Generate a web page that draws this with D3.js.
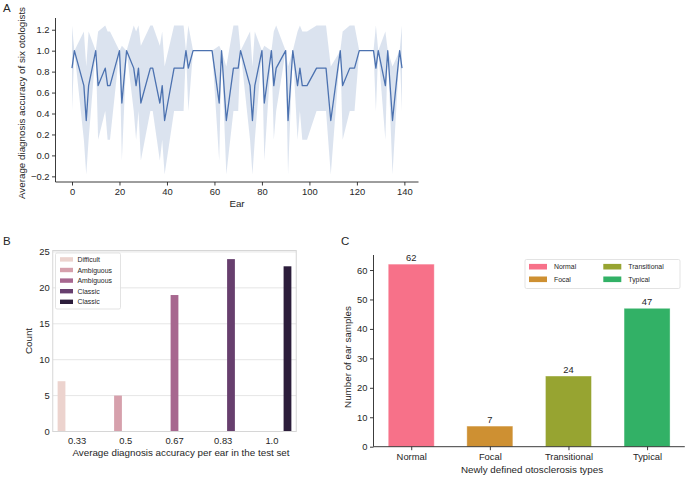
<!DOCTYPE html>
<html>
<head>
<meta charset="utf-8">
<script src="https://cdn.jsdelivr.net/npm/d3@7"></script>
<style>
body { margin: 0; background: #fff; }
svg { font-family: "Liberation Sans", Arial, sans-serif; }
</style>
</head>
<body>
<svg id="fig" width="688" height="477"></svg>
<script>
// panel A: test ears (original index) and how many of the six otologists were right
var ears = [0,1,5,6,7,10,11,14,15,16,20,21,23,26,27,28,29,33,34,37,38,39,43,44,45,46,47,48,49,
	51,53,55,57,59,62,63,65,68,69,70,71,75,76,77,80,81,84,85,86,90,91,93,95,96,97,98,99,
	103,105,107,109,113,114,117,119,121,124,127,128,129,132,133,135,138,139];
var correct = [5,6,4,2,4,6,4,5,4,4,6,3,6,5,4,5,3,5,5,3,4,2,5,5,5,5,5,6,5,
	6,6,6,6,6,3,6,2,5,5,5,6,4,2,4,6,3,6,4,5,6,2,6,4,5,4,4,4,
	5,5,5,2,6,4,5,5,6,6,6,5,6,4,6,2,6,5];
var nDoctors = 6;
var earTicks = [0,20,40,60,80,100,120,140];
var accTicks = [-0.2,0,0.2,0.4,0.6,0.8,1.0,1.2];

// panel B
var accLevels = ["0.33","0.5","0.67","0.83","1.0"];
var accCounts = [7,5,19,24,23];
var accGroups = ["Difficult","Ambiguous","Ambiguous","Classic","Classic"];
var accColors = ["#ecd3ce","#d6a0ac","#a7678f","#673f6e","#2c1d3b"];
var countTicks = [0,5,10,15,20,25];

// panel C
var types = ["Normal","Focal","Transitional","Typical"];
var typeCounts = [62,7,24,47];
var typeColors = ["#f77189","#ce9032","#97a431","#32b166"];
var sampleTicks = [0,10,20,30,40,50,60];

var ink = "#262626";
var tickFs = 9.4, labFs = 9.8, legFs = 6.9;
var svg = d3.select("#fig");

function label(x, y, txt, size, anchor, rot) {
	var t = svg.append("text")
		.attr("x", x).attr("y", y)
		.attr("font-size", size)
		.attr("fill", ink)
		.attr("text-anchor", anchor || "middle")
		.text(txt);
	if (rot) t.attr("transform", "rotate(" + rot + " " + x + " " + y + ")");
	return t;
}

function styleAxis(g) {
	g.selectAll(".domain").remove();
	g.selectAll(".tick line").attr("stroke", ink).attr("stroke-width", 0.9);
	g.selectAll(".tick text").attr("fill", ink).attr("font-size", tickFs)
		.attr("font-family", "Liberation Sans, Arial, sans-serif");
}

// ---------- A ----------
var pts = ears.map(function (e, i) {
	var c = correct[i];
	var m = c / nDoctors;
	var sd = Math.sqrt(c * (nDoctors - c) / (nDoctors * (nDoctors - 1)));
	return {x: e, m: m, lo: m - sd, hi: m + sd};
});
var xA = d3.scaleLinear().domain([-6.95, 145.95]).range([55.5, 418.5]);
var yA = d3.scaleLinear().domain([-0.254, 1.312]).range([182, 18]);

svg.append("path")
	.datum(pts)
	.attr("fill", "#4c72b0")
	.attr("fill-opacity", 0.2)
	.attr("d", d3.area()
		.x(function (d) { return xA(d.x); })
		.y0(function (d) { return yA(d.lo); })
		.y1(function (d) { return yA(d.hi); }));

svg.append("path")
	.datum(pts)
	.attr("fill", "none")
	.attr("stroke", "#4c72b0")
	.attr("stroke-width", 1.3)
	.attr("stroke-linejoin", "round")
	.attr("d", d3.line()
		.x(function (d) { return xA(d.x); })
		.y(function (d) { return yA(d.m); }));

var axAx = svg.append("g").attr("transform", "translate(0,182)")
	.call(d3.axisBottom(xA).tickValues(earTicks).tickSize(3.5).tickPadding(3).tickFormat(d3.format("d")));
styleAxis(axAx);
var axAy = svg.append("g").attr("transform", "translate(55.5,0)")
	.call(d3.axisLeft(yA).tickValues(accTicks).tickSize(3.5).tickPadding(2.5)
		.tickFormat(function (d) { return d3.format(".1f")(d).replace("-", "\u2212"); }));
styleAxis(axAy);
svg.append("path").attr("d", "M55.5,18V182H418.5").attr("fill", "none").attr("stroke", ink).attr("stroke-width", 0.9);

label(237, 206.5, "Ear", labFs);
label(25, 103, "Average diagnosis accuracy of six otologists", labFs, "middle", -90);
label(3, 12, "A", 11.5, "start");

// ---------- B ----------
var xB = d3.scaleBand().domain(accLevels).range([52.75, 296.25]).paddingInner(0).paddingOuter(0);
var hueW = xB.bandwidth() * 0.8 / accLevels.length;
var yB = d3.scaleLinear().domain([0, 25.2]).range([431.5, 250.5]);

svg.append("g").selectAll("line")
	.data(countTicks)
	.enter().append("line")
	.attr("x1", 52.75).attr("x2", 296.25)
	.attr("y1", function (d) { return yB(d); })
	.attr("y2", function (d) { return yB(d); })
	.attr("stroke", "#e3e3e3").attr("stroke-width", 0.9);

svg.append("g").selectAll("rect")
	.data(accLevels)
	.enter().append("rect")
	.attr("x", function (d, i) { return xB(d) + xB.bandwidth() * 0.1 + i * hueW; })
	.attr("width", hueW)
	.attr("y", function (d, i) { return yB(accCounts[i]); })
	.attr("height", function (d, i) { return yB(0) - yB(accCounts[i]); })
	.attr("fill", function (d, i) { return accColors[i]; });

svg.append("rect").attr("x", 52.75).attr("y", 250.5).attr("width", 243.5).attr("height", 181)
	.attr("fill", "none").attr("stroke", "#d6d6d6").attr("stroke-width", 1);

var axBx = svg.append("g").attr("transform", "translate(0,431.5)")
	.call(d3.axisBottom(xB).tickSize(0).tickPadding(6));
styleAxis(axBx);
var axBy = svg.append("g").attr("transform", "translate(52.75,0)")
	.call(d3.axisLeft(yB).tickValues(countTicks).tickSize(0).tickPadding(3));
styleAxis(axBy);

label(181, 456.3, "Average diagnosis accuracy per ear in the test set", labFs);
label(31.5, 341, "Count", labFs, "middle", -90);
label(3, 245, "B", 11.5, "start");

var legB = svg.append("g");
legB.append("rect").attr("x", 55.5).attr("y", 253).attr("width", 65).attr("height", 56)
	.attr("rx", 1.5).attr("fill", "#fff").attr("fill-opacity", 0.85)
	.attr("stroke", "#dcdcdc").attr("stroke-width", 0.8);
legB.selectAll("rect.sw")
	.data(accGroups)
	.enter().append("rect")
	.attr("class", "sw")
	.attr("x", 60).attr("width", 13)
	.attr("y", function (d, i) { return 257.2 + i * 10.6; })
	.attr("height", 4.4)
	.attr("fill", function (d, i) { return accColors[i]; });
legB.selectAll("text")
	.data(accGroups)
	.enter().append("text")
	.attr("x", 77.5).attr("y", function (d, i) { return 261.9 + i * 10.6; })
	.attr("font-size", legFs).attr("fill", ink)
	.text(function (d) { return d; });

// ---------- C ----------
var xC = d3.scaleLinear().domain([-0.48, 3.48]).range([373.5, 684.8]);
var yC = d3.scaleLinear().domain([0, 65.1]).range([446.7, 255]);
var barW = 0.585;

svg.append("g").selectAll("rect")
	.data(types)
	.enter().append("rect")
	.attr("x", function (d, i) { return xC(i - barW / 2); })
	.attr("width", xC(barW) - xC(0))
	.attr("y", function (d, i) { return yC(typeCounts[i]); })
	.attr("height", function (d, i) { return yC(0) - yC(typeCounts[i]); })
	.attr("fill", function (d, i) { return typeColors[i]; })
	.attr("stroke", "#fff").attr("stroke-opacity", 0.45).attr("stroke-width", 0.8);

svg.append("g").selectAll("text")
	.data(types)
	.enter().append("text")
	.attr("x", function (d, i) { return xC(i); })
	.attr("y", function (d, i) { return yC(typeCounts[i]) - 3; })
	.attr("text-anchor", "middle")
	.attr("font-size", tickFs).attr("fill", ink)
	.text(function (d, i) { return typeCounts[i]; });

var axCx = svg.append("g").attr("transform", "translate(0,446.7)")
	.call(d3.axisBottom(xC).tickValues([0, 1, 2, 3]).tickSize(3.5).tickPadding(3)
		.tickFormat(function (d) { return types[d]; }));
styleAxis(axCx);
var axCy = svg.append("g").attr("transform", "translate(373.5,0)")
	.call(d3.axisLeft(yC).tickValues(sampleTicks).tickSize(3.5).tickPadding(2.5));
styleAxis(axCy);
svg.append("path").attr("d", "M373.5,255V446.7H684.8").attr("fill", "none").attr("stroke", ink).attr("stroke-width", 0.9);

label(532, 472.8, "Newly defined otosclerosis types", labFs);
label(350.8, 357, "Number of ear samples", labFs, "middle", -90);
label(341, 245, "C", 11.5, "start");

var legC = svg.append("g");
legC.append("rect").attr("x", 525).attr("y", 259.5).attr("width", 155).attr("height", 29)
	.attr("rx", 1.5).attr("fill", "#fff").attr("fill-opacity", 0.85)
	.attr("stroke", "#dcdcdc").attr("stroke-width", 0.8);
var legPos = [[529, 266.7], [529, 279.3], [603.3, 266.7], [603.3, 279.3]];
legC.selectAll("rect.sw")
	.data(types)
	.enter().append("rect")
	.attr("class", "sw")
	.attr("x", function (d, i) { return legPos[i][0]; })
	.attr("y", function (d, i) { return legPos[i][1] - 2.8; })
	.attr("width", 18).attr("height", 5.6)
	.attr("fill", function (d, i) { return typeColors[i]; });
legC.selectAll("text")
	.data(types)
	.enter().append("text")
	.attr("x", function (d, i) { return legPos[i][0] + 25; })
	.attr("y", function (d, i) { return legPos[i][1] + 2.4; })
	.attr("font-size", legFs).attr("fill", ink)
	.text(function (d) { return d; });
</script>
</body>
</html>
